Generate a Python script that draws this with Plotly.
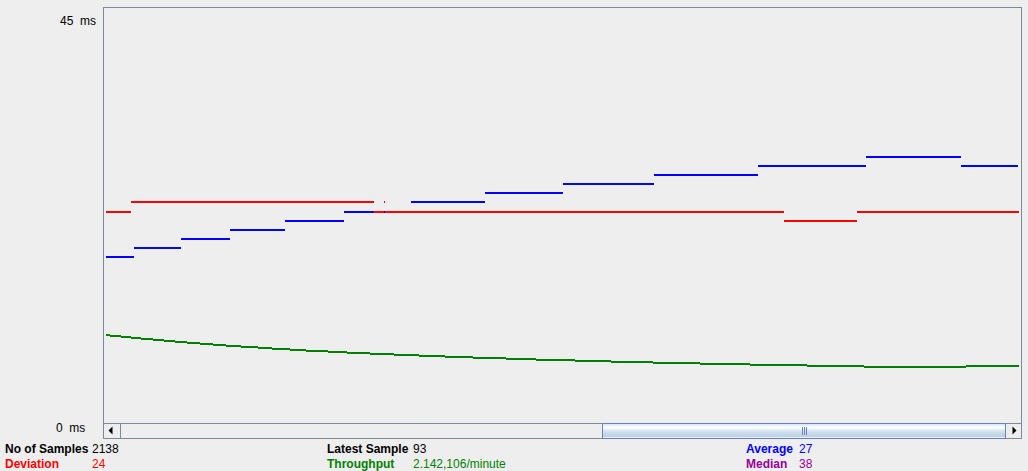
import plotly.graph_objects as go

# ---------------- data (sample index breakpoints and values) ----------------
avg_breaks = [2, 30, 77, 126, 181, 240, 307, 381, 459, 550, 654, 762, 857, 914]
avg_values = [19, 20, 21, 22, 23, 24, 25, 26, 27, 28, 29, 30, 29]

dev_breaks = [2, 27, 270, 280, 281, 680, 753, 915]
dev_values = [24, 25, 24, 25, 24, 23, 24]

thr_breaks = [2, 6, 17, 27, 37, 49, 60, 71, 83, 96, 109, 122, 137, 154, 168, 186, 202,
              224, 243, 266, 290, 315, 341, 369, 402, 432, 471, 507, 549, 596, 646, 703,
              760, 862, 915]
thr_values = [10.42, 10.31, 10.20, 10.09, 9.98, 9.87, 9.76, 9.65, 9.54, 9.43, 9.32, 9.21,
              9.10, 8.99, 8.88, 8.77, 8.66, 8.55, 8.44, 8.33, 8.22, 8.11, 8.00, 7.89, 7.78,
              7.67, 7.56, 7.45, 7.34, 7.23, 7.12, 7.01, 6.90, 7.01]

y_labels = ["45\u00a0 ms", "0\u00a0 ms"]
stat_labels = [("No of Samples", "2138"), ("Deviation", "24"),
               ("Latest Sample", "93"), ("Throughput", "2.142,106/minute"),
               ("Average", "27"), ("Median", "38")]

# ---------------- layout constants ----------------
W, H = 1028, 471
L, R, T, B = 104, 7, 8, 48
PW, PH = W - L - R, H - T - B
BG = "#EEEEEE"
BORDER = "#7A8A99"
FONT = "Liberation Sans, Arial, sans-serif"


def px(x):
    return (x - L) / PW


def py(y):
    return (H - B - y) / PH


def segments(breaks, values):
    xs, ys = [], []
    for i, v in enumerate(values):
        xs += [breaks[i], breaks[i + 1], None]
        ys += [v, v, None]
    return xs, ys


fig = go.Figure()
for breaks, values, color in [(avg_breaks, avg_values, "#0000FF"),
                              (dev_breaks, dev_values, "#FF0000"),
                              (thr_breaks, thr_values, "#008000")]:
    xs, ys = segments(breaks, values)
    fig.add_trace(go.Scatter(x=xs, y=ys, mode="lines",
                             line=dict(color=color, width=2),
                             hoverinfo="skip", showlegend=False))

shapes = []
# scrollbar outer
shapes.append(dict(type="rect", xref="paper", yref="paper",
                   x0=px(103.5), x1=px(1021.5), y0=py(438.5), y1=py(423.5),
                   fillcolor=BG, line=dict(color=BORDER, width=1), layer="above"))
# left button
shapes.append(dict(type="rect", xref="paper", yref="paper",
                   x0=px(103.5), x1=px(120.5), y0=py(438.5), y1=py(423.5),
                   fillcolor=BG, line=dict(color=BORDER, width=1)))
shapes.append(dict(type="path", xref="paper", yref="paper",
                   path=f"M {px(108.5)} {py(430.5)} L {px(112.5)} {py(426.5)} L {px(112.5)} {py(434.5)} Z",
                   fillcolor="#000000", line=dict(width=0)))
# right button
shapes.append(dict(type="rect", xref="paper", yref="paper",
                   x0=px(1005.5), x1=px(1021.5), y0=py(438.5), y1=py(423.5),
                   fillcolor=BG, line=dict(color=BORDER, width=1)))
shapes.append(dict(type="path", xref="paper", yref="paper",
                   path=f"M {px(1016.5)} {py(430.5)} L {px(1012.5)} {py(426.5)} L {px(1012.5)} {py(434.5)} Z",
                   fillcolor="#000000", line=dict(width=0)))
# thumb gradient stripes
thumb_cols = ["#DDE8F3", "#E8F0F8", "#F6F9FC", "#FFFFFF", "#F4F8FB", "#E6EEF6",
              "#DCE7F2", "#D4E1EF", "#CEDCEC", "#C9D9EA", "#C5D6E9", "#C2D4E8", "#BFD2E7"]
for i, c in enumerate(thumb_cols):
    shapes.append(dict(type="rect", xref="paper", yref="paper",
                       x0=px(603), x1=px(1005), y0=py(425 + i), y1=py(424 + i),
                       fillcolor=c, line=dict(width=0)))
shapes.append(dict(type="rect", xref="paper", yref="paper",
                   x0=px(602.5), x1=px(1005.5), y0=py(438.5), y1=py(423.5),
                   fillcolor="rgba(0,0,0,0)", line=dict(color="#6382BF", width=1)))
for gx in (802.5, 804.5, 806.5):
    shapes.append(dict(type="line", xref="paper", yref="paper",
                       x0=px(gx), x1=px(gx), y0=py(427), y1=py(435),
                       line=dict(color="#6382BF", width=1)))

annotations = []


def add_text(text, x, y, color, bold=False):
    annotations.append(dict(text=f"<b>{text}</b>" if bold else text,
                            xref="paper", yref="paper", x=px(x), y=py(y),
                            xanchor="left", yanchor="middle", showarrow=False,
                            borderpad=0, borderwidth=0,
                            font=dict(family=FONT, size=12, color=color)))


add_text(y_labels[0], 60, 21, "#000000")
add_text(y_labels[1], 56, 427.5, "#000000")

stat_pos = [(5, 92, 448.5), (5, 92, 463.5), (327, 413, 448.5), (327, 413, 463.5),
            (746, 799, 448.5), (746, 799, 463.5)]
stat_colors = ["#000000", "#FF0000", "#000000", "#008000", "#0000FF", "#990099"]
for (lab, val), (lx, vx, yy), col in zip(stat_labels, stat_pos, stat_colors):
    add_text(lab, lx, yy, col, bold=True)
    add_text(val, vx, yy, col)

Y0 = (429.7 - (H - B)) / 9.09
Y1 = (429.7 - T) / 9.09

fig.update_layout(
    width=W, height=H,
    margin=dict(l=L, r=R, t=T, b=B, pad=0),
    paper_bgcolor=BG, plot_bgcolor=BG,
    xaxis=dict(range=[0, PW], showgrid=False, zeroline=False, showticklabels=False,
               ticks="", showline=True, mirror=True, linecolor=BORDER, linewidth=1,
               fixedrange=True),
    yaxis=dict(range=[Y0, Y1], showgrid=False, zeroline=False, showticklabels=False,
               ticks="", showline=True, mirror=True, linecolor=BORDER, linewidth=1,
               fixedrange=True),
    shapes=shapes, annotations=annotations,
    showlegend=False,
)

post = ("document.body.style.margin='0';document.body.style.background='#EEEEEE';"
        "var s=document.createElement('style');"
        "s.textContent='.scatterlayer path{shape-rendering:crispEdges}';"
        "document.head.appendChild(s);")
fig.write_html("out.html", config={"displayModeBar": False}, post_script=post)
